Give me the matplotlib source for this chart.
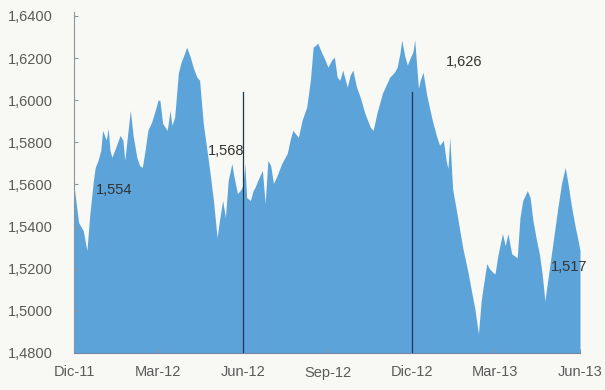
import numpy as np
import pandas as pd
import matplotlib
matplotlib.use("Agg")
from matplotlib import pyplot as plt

# days since 1 Dec 2011 and the series value
days = [0, 2, 5, 10, 14, 17, 21, 23, 26, 29, 31, 35, 37, 39, 41, 44, 48, 50, 53, 55,
        58, 61, 64, 68, 71, 74, 77, 80, 84, 88, 91, 93, 96, 101, 104, 106, 109, 113, 116, 119,
        122, 126, 129, 133, 136, 140, 144, 147, 151, 155, 158, 161, 164, 167, 171, 173, 177, 180, 183, 185,
        187, 191, 194, 196, 199, 204, 207, 210, 213, 216, 220, 225, 231, 234, 237, 243, 247, 252, 256, 259,
        262, 264, 267, 272, 275, 279, 282, 285, 288, 291, 296, 299, 302, 306, 310, 315, 321, 324, 328, 334,
        339, 342, 347, 350, 353, 355, 358, 361, 364, 367, 369, 373, 375, 378, 382, 388, 393, 396, 400, 403,
        405, 407, 410, 416, 421, 427, 431, 434, 438, 441, 443, 445, 447, 450, 454, 456, 459, 464, 467, 470,
        474, 480, 483, 486, 491, 494, 497, 501, 504, 507, 510, 513, 518, 521, 524, 528, 532, 535, 539, 543,
        546, 548]
values = [1.5595, 1.5524, 1.5419, 1.5381, 1.5286, 1.5452, 1.5619, 1.5681, 1.5714, 1.5762,
          1.5857, 1.5810, 1.5867, 1.5762, 1.5729, 1.5762, 1.5810, 1.5833, 1.5810, 1.5714,
          1.5833, 1.5952, 1.5833, 1.5729, 1.5690, 1.5681, 1.5762, 1.5857, 1.5895, 1.5952,
          1.6000, 1.6000, 1.5890, 1.5857, 1.5952, 1.5881, 1.5919, 1.6129, 1.6181, 1.6214,
          1.6252, 1.6205, 1.6157, 1.6110, 1.6095, 1.5890, 1.5762, 1.5667, 1.5524, 1.5348,
          1.5443, 1.5524, 1.5443, 1.5619, 1.5700, 1.5643, 1.5557, 1.5571, 1.5595, 1.5700,
          1.5538, 1.5524, 1.5571, 1.5586, 1.5619, 1.5667, 1.5510, 1.5714, 1.5690, 1.5605,
          1.5643, 1.5700, 1.5748, 1.5810, 1.5857, 1.5824, 1.5905, 1.5967, 1.6095, 1.6252,
          1.6262, 1.6271, 1.6238, 1.6190, 1.6157, 1.6190, 1.6205, 1.6110, 1.6095, 1.6143,
          1.6062, 1.6119, 1.6143, 1.6062, 1.6014, 1.5938, 1.5871, 1.5857, 1.5938, 1.6033,
          1.6081, 1.6110, 1.6133, 1.6157, 1.6224, 1.6286, 1.6214, 1.6167, 1.6200, 1.6229,
          1.6286, 1.6057, 1.6095, 1.6133, 1.6024, 1.5905, 1.5824, 1.5786, 1.5810, 1.5714,
          1.5676, 1.5824, 1.5581, 1.5429, 1.5300, 1.5176, 1.5081, 1.5014, 1.4890, 1.5048,
          1.5110, 1.5167, 1.5224, 1.5200, 1.5181, 1.5176, 1.5262, 1.5367, 1.5310, 1.5367,
          1.5271, 1.5252, 1.5443, 1.5524, 1.5571, 1.5538, 1.5429, 1.5333, 1.5271, 1.5176,
          1.5048, 1.5143, 1.5300, 1.5395, 1.5490, 1.5605, 1.5681, 1.5605, 1.5490, 1.5395,
          1.5333, 1.5286]

tick_labels = ["Dic-11", "Mar-12", "Jun-12", "Sep-12", "Dic-12", "Mar-13", "Jun-13"]
tick_dates = ["2011-12-01", "2012-03-01", "2012-06-01", "2012-09-01", "2012-12-01", "2013-03-01", "2013-06-01"]
marker_dates = ["2012-06-01", "2012-12-01"]
notes = ["1,554", "1,568", "1,626", "1,517"]
note_dates = ["2012-01-13", "2012-05-14", "2013-01-26", "2013-05-20"]
note_values = [1.5576, 1.5757, 1.6181, 1.5210]

start = pd.Timestamp("2011-12-01")
dates = start + pd.to_timedelta(days, unit="D")

plt.rcParams['font.family'] = ['Liberation Sans', 'DejaVu Sans']

fig = plt.figure(figsize=(6.05, 3.9), dpi=100)
fig.patch.set_facecolor("#f8f8f5")
ax = fig.add_axes([74 / 605, 1 - 353 / 390, (580 - 74) / 605, (353 - 16) / 390])
ax.set_facecolor("#f8f8f5")

ax.fill_between(dates, values, 1.48, color="#5ca3d9", linewidth=0)

# separators
ymax = (1.6038 - 1.48) / (1.64 - 1.48)
for d in marker_dates:
    ax.axvline(pd.Timestamp(d), ymin=0, ymax=ymax, color="#1f3550", linewidth=0.9)

for t, d, v in zip(notes, note_dates, note_values):
    ax.text(pd.Timestamp(d), v, t, ha="center", va="center", fontsize=10.5, color="#333333")

ax.set_xlim(pd.Timestamp("2011-12-01"), pd.Timestamp("2013-06-01"))
ax.set_ylim(1.48, 1.64)
ax.set_xticks([pd.Timestamp(d) for d in tick_dates])
ax.set_xticklabels(tick_labels)
yt = np.arange(1.48, 1.6401, 0.02)
ax.set_yticks(yt)
ax.set_yticklabels([f"{v:.4f}".replace(".", ",") for v in yt])

for s in ["top", "right"]:
    ax.spines[s].set_visible(False)
ax.spines["left"].set_color("#8c96a0")
ax.spines["bottom"].set_color("#7088a0")
ax.spines["left"].set_bounds(1.48, 1.642)
ax.tick_params(axis="both", direction="in", length=3, color="#8c96a0",
               labelsize=10.5, labelcolor="#5a5a5a")
ax.tick_params(axis="y", pad=15)
ax.tick_params(axis="x", pad=9)

fig.savefig("out.png", dpi=100, facecolor=fig.get_facecolor())
